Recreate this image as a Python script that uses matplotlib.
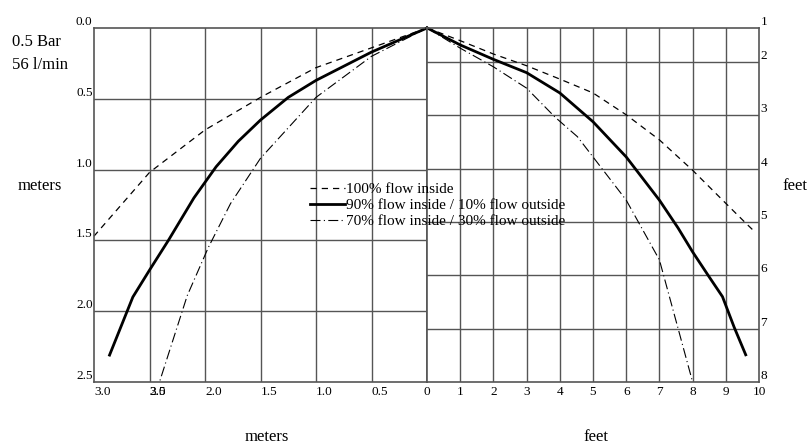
import matplotlib
matplotlib.use("Agg")
import matplotlib.pyplot as plt

plt.rcParams['font.family'] = ['Liberation Serif', 'DejaVu Serif']

# left half, meters (distance from nozzle, depth below)
m_x_100 = [0, 0.5, 1.0, 1.5, 2.0, 2.5, 3.0]
m_y_100 = [0, 0.14, 0.28, 0.49, 0.72, 1.02, 1.47]
m_x_90 = [0, 0.5, 1.0, 1.25, 1.5, 1.7, 1.9, 2.1, 2.33, 2.5, 2.65, 2.86]
m_y_90 = [0, 0.17, 0.37, 0.49, 0.65, 0.80, 0.98, 1.2, 1.5, 1.71, 1.9, 2.31]
m_x_70 = [0, 0.5, 1.0, 1.5, 1.77, 1.97, 2.16, 2.41]
m_y_70 = [0, 0.2, 0.49, 0.92, 1.24, 1.55, 1.89, 2.5]

# right half, feet
f_x_100 = [0, 1, 2, 3, 4, 5, 6, 7, 8, 9, 9.6, 9.9]
f_y_100 = [1.36, 1.6, 1.85, 2.07, 2.32, 2.58, 2.99, 3.46, 4.03, 4.65, 5.02, 5.2]
f_x_90 = [0, 1, 2, 3, 4, 5, 6, 7, 7.56, 8, 8.5, 8.9, 9.25, 9.6]
f_y_90 = [1.36, 1.68, 1.95, 2.2, 2.58, 3.12, 3.78, 4.59, 5.11, 5.56, 6.03, 6.4, 6.97, 7.49]
f_x_70 = [0, 1, 2, 3, 3.85, 4.53, 5, 6, 7, 7.56, 8]
f_y_70 = [1.36, 1.74, 2.09, 2.49, 3.03, 3.4, 3.78, 4.59, 5.71, 6.99, 8.0]

m_xticks = [3.0, 2.5, 2.0, 1.5, 1.0, 0.5, 0]
m_xlabels = ['3.0', '2.5', '2.0', '1.5', '1.0', '0.5', '']
m_yticks = [0.0, 0.5, 1.0, 1.5, 2.0, 2.5]
m_ylabels = ['0.0', '0.5', '1.0', '1.5', '2.0', '2.5']
f_xticks = list(range(0, 11))
f_yticks = [1.3625, 2, 3, 4, 5, 6, 7, 8]
f_ylabels = ['1', '2', '3', '4', '5', '6', '7', '8']

labels = ['100% flow inside',
          '90% flow inside / 10% flow outside',
          '70% flow inside / 30% flow outside']

fig = plt.figure(figsize=(8.1, 4.46), dpi=100)
axl = fig.add_axes([94 / 810, 1 - 382 / 446, 333 / 810, 354 / 446])
axr = fig.add_axes([427 / 810, 1 - 382 / 446, 332 / 810, 354 / 446])

gcol = '#555555'
styles = [dict(color='black', lw=0.9, ls=(0, (5, 4))),
          dict(color='black', lw=2.0, ls='-'),
          dict(color='black', lw=0.8, ls=(0, (9, 3, 1, 3)))]

for ax in (axl, axr):
    for s in ax.spines.values():
        s.set_color(gcol)
        s.set_linewidth(1.2)
    ax.tick_params(length=0, labelsize=9.5)

# left half
axl.set_xlim(3.0, 0)
axl.set_ylim(2.5, 0)
axl.set_xticks(m_xticks, m_xlabels)
axl.set_yticks(m_yticks, m_ylabels)
for v in m_xticks[1:-1]:
    axl.axvline(v, color=gcol, lw=1)
for v in m_yticks[1:-1]:
    axl.axhline(v, color=gcol, lw=1)
for lbl in axl.get_yticklabels():
    lbl.set_va('bottom')
for lbl in axl.get_xticklabels():
    lbl.set_ha('left')
axl.tick_params(axis='y', pad=1)
axl.tick_params(axis='x', pad=3)
# the original has a stray "3.0" printed over the 2.5 label
axl.annotate('3.0', xy=(2.5, 2.5), xytext=(0, -3), textcoords='offset points',
             ha='left', va='top', fontsize=9.5, annotation_clip=False)

lines = []
for xs, ys, st in zip([m_x_100, m_x_90, m_x_70], [m_y_100, m_y_90, m_y_70], styles):
    ln, = axl.plot(xs, ys, clip_on=False, **st)
    lines.append(ln)

# right half
axr.set_xlim(0, 10)
axr.set_ylim(8, 1.3625)
axr.set_xticks(f_xticks, [str(v) for v in f_xticks])
axr.yaxis.tick_right()
axr.set_yticks(f_yticks, f_ylabels)
for v in f_xticks[1:-1]:
    axr.axvline(v, color=gcol, lw=1)
for v in f_yticks[1:-1]:
    axr.axhline(v, color=gcol, lw=1)
for lbl in axr.get_yticklabels():
    lbl.set_va('bottom')
axr.tick_params(axis='y', pad=1)
axr.tick_params(axis='x', pad=3)

for xs, ys, st in zip([f_x_100, f_x_90, f_x_70], [f_y_100, f_y_90, f_y_70], styles):
    axr.plot(xs, ys, clip_on=False, **st)

axr.legend(lines, labels, loc='upper left', bbox_to_anchor=(302 / 810, 1 - 175 / 446),
           bbox_transform=fig.transFigure, frameon=False, fontsize=11,
           handlelength=2.3, handletextpad=0.05, labelspacing=0.15, borderpad=0)

fig.text(12 / 810, 1 - 42 / 446, '0.5 Bar', fontsize=12, va='center')
fig.text(12 / 810, 1 - 65 / 446, '56 l/min', fontsize=12, va='center')
fig.text(18 / 810, 1 - 186 / 446, 'meters', fontsize=12, va='center')
fig.text(782 / 810, 1 - 186 / 446, 'feet', fontsize=12, va='center')
fig.text(267 / 810, 1 - 437 / 446, 'meters', fontsize=12, ha='center', va='center')
fig.text(596 / 810, 1 - 437 / 446, 'feet', fontsize=12, ha='center', va='center')

fig.savefig('out.png', dpi=100)
